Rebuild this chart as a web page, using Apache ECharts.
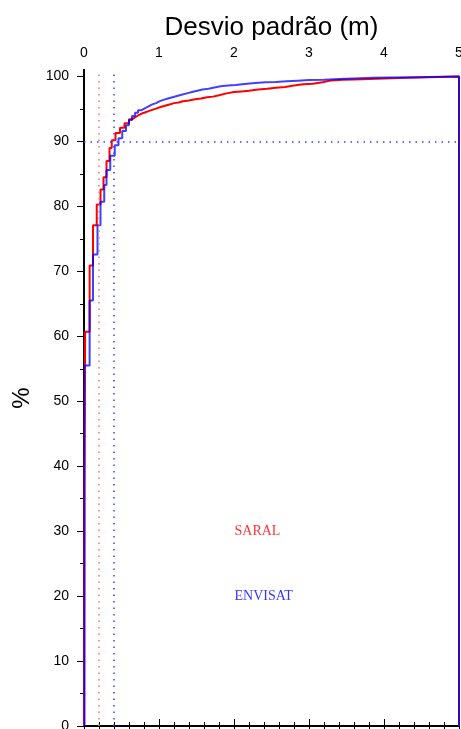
<!DOCTYPE html>
<html>
<head>
<meta charset="utf-8">
<style>html,body{margin:0;padding:0;background:#fff;}#c{width:461px;height:729px;}</style>
<script src="https://cdn.jsdelivr.net/npm/echarts@6/dist/echarts.min.js"></script>
</head>
<body>
<div id="c"></div>
<script>
// SARAL cumulative distribution (x: standard deviation in m, y: %)
var saralX = [0, 0.005, 0.015, 0.075, 0.12, 0.17, 0.22, 0.26, 0.30, 0.34, 0.37, 0.42, 0.48, 0.54, 0.60, 0.64, 0.68, 0.72, 0.77, 0.82, 0.87, 0.92, 0.97, 1.02, 1.08, 1.14, 1.20, 1.26, 1.32, 1.40, 1.48, 1.56, 1.64, 1.72, 1.80, 1.90, 2.00, 2.10, 2.20, 2.32, 2.44, 2.56, 2.68, 2.80, 2.92, 3.05, 3.18, 3.30, 3.45, 3.60, 3.80, 4.00, 4.20, 4.45, 5, 5];
var saralY = [0, 36.5, 60.7, 70.9, 77.1, 80.3, 82.6, 84.5, 87.0, 89.0, 90.2, 91.3, 92.1, 92.8, 93.4, 93.7, 94.0, 94.3, 94.5, 94.7, 94.9, 95.1, 95.3, 95.5, 95.7, 95.9, 96.0, 96.2, 96.3, 96.5, 96.6, 96.8, 96.9, 97.1, 97.4, 97.6, 97.7, 97.8, 98.0, 98.1, 98.25, 98.4, 98.6, 98.8, 98.9, 99.1, 99.4, 99.5, 99.55, 99.6, 99.7, 99.75, 99.85, 100, 100, 0];
// ENVISAT cumulative distribution
var envisatX = [0.007, 0.007, 0.075, 0.12, 0.18, 0.22, 0.27, 0.30, 0.35, 0.41, 0.46, 0.51, 0.56, 0.60, 0.64, 0.68, 0.72, 0.76, 0.81, 0.86, 0.91, 0.96, 1.01, 1.06, 1.12, 1.18, 1.24, 1.30, 1.37, 1.44, 1.51, 1.58, 1.66, 1.74, 1.82, 1.92, 2.02, 2.14, 2.28, 2.42, 2.56, 2.70, 2.85, 3.00, 3.20, 3.40, 3.60, 3.85, 4.10, 4.40, 5, 5];
var envisatY = [0, 55.5, 65.5, 72.6, 77.1, 80.7, 83.3, 85.6, 87.8, 89.4, 90.5, 91.6, 92.5, 93.3, 93.9, 94.4, 94.8, 95.1, 95.4, 95.7, 95.9, 96.2, 96.4, 96.6, 96.8, 97.0, 97.2, 97.4, 97.6, 97.8, 98.0, 98.1, 98.3, 98.5, 98.6, 98.7, 98.85, 99.0, 99.1, 99.15, 99.25, 99.35, 99.45, 99.5, 99.6, 99.7, 99.8, 99.85, 99.9, 100, 100, 0];
var yTickLabels = [0, 10, 20, 30, 40, 50, 60, 70, 80, 90, 100];
var yMinorTicks = [0, 5, 10, 15, 20, 25, 30, 35, 40, 45, 50, 55, 60, 65, 70, 75, 80, 85, 90, 95, 100];
var saralStd = 0.2, envisatStd = 0.4, refPercent = 90;
var labelSaral = {text: 'SARAL', x: 2.0, y: 30};
var labelEnvisat = {text: 'ENVISAT', x: 2.0, y: 20};

function zip(a, b) { return a.map(function (v, i) { return [v, b[i]]; }); }

var chart = echarts.init(document.getElementById('c'));
var sans = 'Liberation Sans';
var black = {color: '#000', width: 2};
chart.setOption({
  animation: false,
  grid: {left: 84, right: 2, top: 70, bottom: 3, containLabel: false, outerBoundsMode: 'none'},
  xAxis: [{
    type: 'value', position: 'top', min: 0, max: 5, interval: 1,
    name: 'Desvio padrão (m)', nameLocation: 'middle', nameGap: 28,
    nameTextStyle: {fontFamily: sans, fontSize: 26, color: '#000'},
    axisLine: {show: true, lineStyle: black},
    axisTick: {show: true, length: 7, lineStyle: {color: '#000', width: 1}},
    axisLabel: {show: true, margin: 10, fontFamily: sans, fontSize: 14, color: '#000'},
    splitLine: {show: false}
  }, {
    type: 'value', position: 'top', min: 0, max: 5, interval: 0.2,
    axisLine: {show: false},
    axisTick: {show: true, length: 4, lineStyle: {color: '#000', width: 1}},
    axisLabel: {show: false}, splitLine: {show: false}
  }, {
    type: 'value', position: 'bottom', min: 0, max: 5, interval: 0.2,
    axisLine: {show: true, lineStyle: black},
    axisTick: {show: true, length: 4, lineStyle: {color: '#000', width: 1}},
    axisLabel: {show: false}, splitLine: {show: false}
  }],
  yAxis: [{
    type: 'value', position: 'left', min: 0, max: 101,
    name: '%', nameLocation: 'middle', nameGap: 50, nameRotate: 90,
    nameTextStyle: {fontFamily: sans, fontSize: 24, color: '#000'},
    axisLine: {show: true, lineStyle: black},
    axisTick: {show: true, length: 4, customValues: yMinorTicks, lineStyle: {color: '#000', width: 1}},
    axisLabel: {show: false}, splitLine: {show: false}
  }, {
    type: 'value', position: 'left', offset: 0, min: 0, max: 101,
    axisLine: {show: true, lineStyle: black},
    axisTick: {show: true, length: 7, customValues: yTickLabels, lineStyle: {color: '#000', width: 1}},
    axisLabel: {show: true, customValues: yTickLabels, margin: 15, fontFamily: sans, fontSize: 14, color: '#000'},
    splitLine: {show: false}
  }],
  series: [{
    name: 'SARAL', type: 'line', step: 'end', xAxisIndex: 0, yAxisIndex: 0,
    data: zip(saralX, saralY), showSymbol: false, symbol: 'none', z: 3,
    lineStyle: {color: '#ff0000', width: 2},
    markLine: {
      silent: true, symbol: 'none', label: {show: false},
      lineStyle: {color: '#ff7070', type: [1.5, 5], width: 1.5},
      data: [{xAxis: saralStd}]
    }
  }, {
    name: 'ENVISAT', type: 'line', step: 'end', xAxisIndex: 0, yAxisIndex: 0,
    data: zip(envisatX, envisatY), showSymbol: false, symbol: 'none', z: 4,
    lineStyle: {color: '#0000ff', width: 2, opacity: 0.75},
    markLine: {
      silent: true, symbol: 'none', label: {show: false},
      lineStyle: {color: '#3c3cff', type: [1.5, 5], width: 1.5, opacity: 1},
      data: [{xAxis: envisatStd}, {yAxis: refPercent}]
    }
  }, {
    type: 'scatter', xAxisIndex: 0, yAxisIndex: 0, symbolSize: 1, z: 5,
    itemStyle: {color: 'rgba(0,0,0,0)'},
    data: [[labelSaral.x, labelSaral.y]],
    label: {show: true, position: 'right', distance: 0, formatter: labelSaral.text,
      fontFamily: 'Liberation Serif', fontSize: 14, color: '#ff0000'}
  }, {
    type: 'scatter', xAxisIndex: 0, yAxisIndex: 0, symbolSize: 1, z: 5,
    itemStyle: {color: 'rgba(0,0,0,0)'},
    data: [[labelEnvisat.x, labelEnvisat.y]],
    label: {show: true, position: 'right', distance: 0, formatter: labelEnvisat.text,
      fontFamily: 'Liberation Serif', fontSize: 14, color: '#0000ff'}
  }]
});
</script>
</body>
</html>
